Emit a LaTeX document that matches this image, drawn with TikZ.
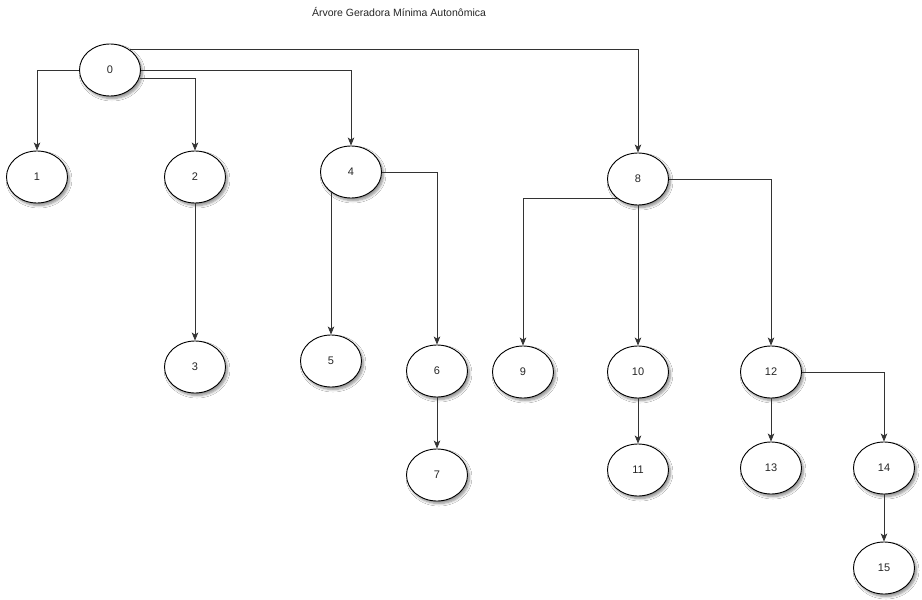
\documentclass[tikz,border=0pt]{standalone}
\usepackage{fontspec}
\setmainfont{Liberation Sans}
\usetikzlibrary{shapes.geometric,arrows.meta,shadows.blur}
\tikzset{
  tnode/.style={ellipse, draw=black, line width=0.9pt, fill=white,
    minimum width=61pt, minimum height=52pt, inner sep=0pt,
    font=\fontsize{11}{13}\selectfont, text=black!85,
    blur shadow={shadow xshift=2pt, shadow yshift=-2.5pt, shadow blur radius=2.5pt, shadow blur steps=6, shadow opacity=45}},
  arr/.style={draw=black!80, line width=0.8pt, -{Stealth[length=8pt,width=6.5pt,inset=2pt]}},
  ttl/.style={font=\fontsize{10.5}{12}\selectfont, text=black!85}
}
\begin{document}
\begin{tikzpicture}[x=1pt,y=-1pt]
\useasboundingbox[fill=white] (0,0) rectangle (922,600);
\node[ttl] (title) at (399,12) {Árvore Geradora Mínima Autonômica};
\node[tnode] (n0) at (110,70) {0};
\node[tnode] (n1) at (37,177) {1};
\node[tnode] (n2) at (195,177) {2};
\node[tnode] (n3) at (195,367) {3};
\node[tnode] (n4) at (351,172) {4};
\node[tnode] (n5) at (331,361) {5};
\node[tnode] (n6) at (437,371) {6};
\node[tnode] (n7) at (437,475) {7};
\node[tnode] (n8) at (638,179) {8};
\node[tnode] (n9) at (523,372) {9};
\node[tnode] (n10) at (638,372) {10};
\node[tnode] (n11) at (638,470) {11};
\node[tnode] (n12) at (771,372) {12};
\node[tnode] (n13) at (771,468) {13};
\node[tnode] (n14) at (884,468) {14};
\node[tnode] (n15) at (884,568) {15};
\draw[arr] (n0.west) -| (n1.north);
\draw[arr] (n0.-15) -| (n2.north);
\draw[arr] (n0.east) -| (n4.north);
\draw[arr] (n0.45) -| (n8.north);
\draw[arr] (n2.south) -- (n3.north);
\draw[arr] (n5.north |- n4.-135) -- (n5.north);
\draw[arr] (n4.east) -| (n6.north);
\draw[arr] (n6.south) -- (n7.north);
\draw[arr] (n8.-138) -| (n9.north);
\draw[arr] (n8.south) -- (n10.north);
\draw[arr] (n8.east) -| (n12.north);
\draw[arr] (n10.south) -- (n11.north);
\draw[arr] (n12.south) -- (n13.north);
\draw[arr] (n12.east) -| (n14.north);
\draw[arr] (n14.south) -- (n15.north);
\end{tikzpicture}
\end{document}
